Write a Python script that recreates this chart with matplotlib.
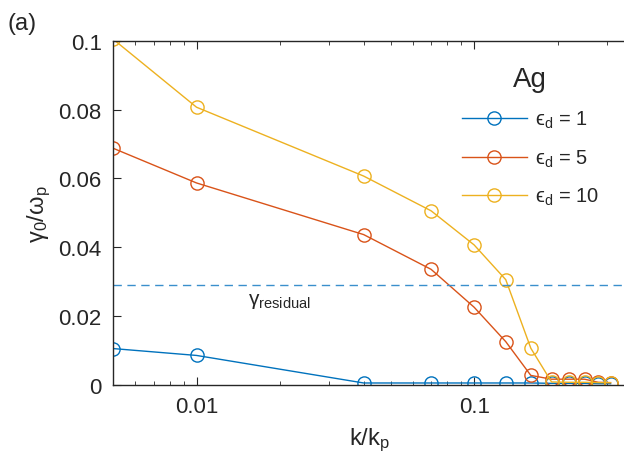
import numpy as np
import matplotlib
matplotlib.use("Agg")
from matplotlib import pyplot as plt

plt.rcParams['font.family'] = ['Liberation Sans', 'DejaVu Sans']
plt.rcParams['mathtext.fontset'] = 'custom'
plt.rcParams['mathtext.rm'] = 'Liberation Sans'
plt.rcParams['mathtext.it'] = 'Liberation Sans:italic'

# data
k = [0.005, 0.01, 0.04, 0.07, 0.1, 0.13, 0.16, 0.19, 0.22, 0.25, 0.28, 0.31]
g_eps1 = [0.0106, 0.0086, 0.0006, 0.0006, 0.0006, 0.0006, 0.0006,
          0.0005, 0.0005, 0.0005, 0.0004, 0.0004]
g_eps5 = [0.0688, 0.0587, 0.0437, 0.0336, 0.0226, 0.0126, 0.0028,
          0.0017, 0.0017, 0.0017, 0.0008, 0.0007]
g_eps10 = [0.1005, 0.0807, 0.0607, 0.0506, 0.0407, 0.0306, 0.0107,
           0.0009, 0.0008, 0.0008, 0.0007, 0.0007]
g_residual = 0.0292

labels = ['ϵ$_\\mathrm{d}$ = 1', 'ϵ$_\\mathrm{d}$ = 5', 'ϵ$_\\mathrm{d}$ = 10']
colors = ['#0072BD', '#D95319', '#EDB120']
txt = '#262626'

fig = plt.figure(figsize=(6.24, 4.64), dpi=100)
ax = fig.add_axes([0.181, 0.168, 0.822, 0.742])

for vals, lab, c in zip([g_eps1, g_eps5, g_eps10], labels, colors):
    ax.plot(k, vals, '-o', color=c, lw=1.0, ms=9.5, mfc='none', mew=1.0, label=lab)

ax.axhline(g_residual, color='#3A8FCC', lw=1.0, ls=(0, (6, 4)))
ax.text(0.0153, 0.0245, 'γ$_\\mathrm{residual}$', fontsize=15, color=txt,
        ha='left', va='center')

ax.set_xscale('log')
ax.set_xlim(0.005, 0.352)
ax.set_ylim(0, 0.1)
ax.set_xticks([0.01, 0.1])
ax.set_xticklabels(['0.01', '0.1'])
ax.set_yticks([0, 0.02, 0.04, 0.06, 0.08, 0.1])
ax.set_yticklabels(['0', '0.02', '0.04', '0.06', '0.08', '0.1'])

for s in ax.spines.values():
    s.set_color(txt)
    s.set_linewidth(1.0)
ax.spines['right'].set_visible(False)
ax.tick_params(which='both', direction='in', top=True, right=False,
               colors=txt, labelsize=16)
ax.tick_params(which='major', length=6, pad=8)
ax.tick_params(which='minor', length=3)

ax.set_xlabel('k/k$_\\mathrm{p}$', fontsize=17, color=txt, labelpad=6)
ax.set_ylabel('γ$_0$/ω$_\\mathrm{p}$', fontsize=17, color=txt, labelpad=4)

leg = ax.legend(loc='upper left', bbox_to_anchor=(0.665, 0.95), frameon=False,
                fontsize=14.5, title='Ag', title_fontsize=20, handlelength=3.2,
                labelspacing=0.85, handletextpad=0.4, borderaxespad=0)
for t in leg.get_texts():
    t.set_color(txt)
leg.get_title().set_color(txt)

fig.text(0.012, 0.935, '(a)', fontsize=17, color=txt)

fig.savefig('out.png', dpi=100)
